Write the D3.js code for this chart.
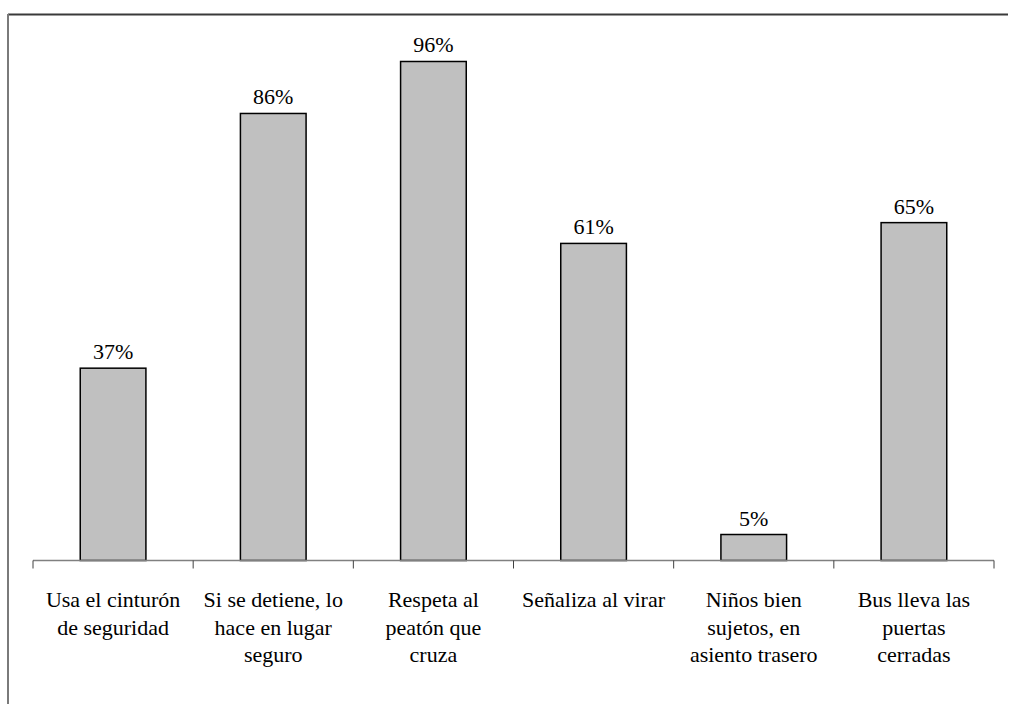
<!DOCTYPE html>
<html>
<head>
<meta charset="utf-8">
<script src="https://cdn.jsdelivr.net/npm/d3@7"></script>
<style>
  html, body { margin: 0; padding: 0; background: #fff; }
  svg { display: block; }
</style>
</head>
<body>
<script>
const categories = [
  ["Usa el cinturón", "de seguridad"],
  ["Si se detiene, lo", "hace en lugar", "seguro"],
  ["Respeta al", "peatón que", "cruza"],
  ["Señaliza al virar"],
  ["Niños bien", "sujetos, en", "asiento trasero"],
  ["Bus lleva las", "puertas", "cerradas"]
];
const values = [37, 86, 96, 61, 5, 65];
const valueLabels = ["37%", "86%", "96%", "61%", "5%", "65%"];

const FONT = "'Liberation Serif', Tinos, 'Times New Roman', Times, 'DejaVu Serif', serif";
const W = 1009, H = 704;
const svg = d3.select("body").append("svg").attr("width", W).attr("height", H)
  .style("font-family", FONT);

// outer frame
svg.append("line").attr("x1", 8).attr("x2", 1008).attr("y1", 14.5).attr("y2", 14.5)
  .attr("stroke", "#3a3a3a").attr("stroke-width", 2);
svg.append("line").attr("x1", 8).attr("x2", 8).attr("y1", 14).attr("y2", 704)
  .attr("stroke", "#7a7a7a").attr("stroke-width", 2);

const left = 33, right = 994, baseY = 560.5, topY = 40.7;
const idx = d3.range(categories.length);
const x = d3.scaleBand().domain(idx).range([left, right]).paddingInner(0).paddingOuter(0);
const y = d3.scaleLinear().domain([0, 100]).range([baseY, topY]);
const barW = x.bandwidth() * 0.41;

// bars
svg.append("g").selectAll("rect").data(values).join("rect")
  .attr("x", (d, i) => x(i) + (x.bandwidth() - barW) / 2)
  .attr("y", d => y(d))
  .attr("width", barW)
  .attr("height", d => y(0) - y(d))
  .attr("fill", "#c0c0c0")
  .attr("stroke", "#000")
  .attr("stroke-width", 1.5);

// axis
const axisG = svg.append("g").attr("transform", `translate(0,${baseY})`);
axisG.append("line").attr("x1", left).attr("x2", right).attr("y1", 0).attr("y2", 0)
  .attr("stroke", "#808080").attr("stroke-width", 1.3);
const tickPos = d3.range(categories.length + 1).map(i => i === categories.length ? right : x(i));
axisG.selectAll("line.tick").data(tickPos).join("line").attr("class", "tick")
  .attr("x1", d => d).attr("x2", d => d).attr("y1", 0).attr("y2", 8)
  .attr("stroke", "#404040").attr("stroke-width", 1);

// value labels
svg.append("g").selectAll("text").data(values).join("text")
  .attr("x", (d, i) => x(i) + x.bandwidth() / 2)
  .attr("y", d => y(d) - 9)
  .attr("text-anchor", "middle")
  .attr("font-family", FONT)
  .attr("font-size", 22)
  .attr("fill", "#000")
  .text((d, i) => valueLabels[i]);

// category labels
const catG = svg.append("g");
categories.forEach((lines, i) => {
  const t = catG.append("text")
    .attr("x", x(i) + x.bandwidth() / 2)
    .attr("y", 607)
    .attr("text-anchor", "middle")
    .attr("font-family", FONT)
    .attr("font-size", 22)
    .attr("fill", "#000");
  lines.forEach((ln, j) => {
    t.append("tspan").attr("x", x(i) + x.bandwidth() / 2).attr("y", 607 + j * 27.5).text(ln);
  });
});
</script>
</body>
</html>
